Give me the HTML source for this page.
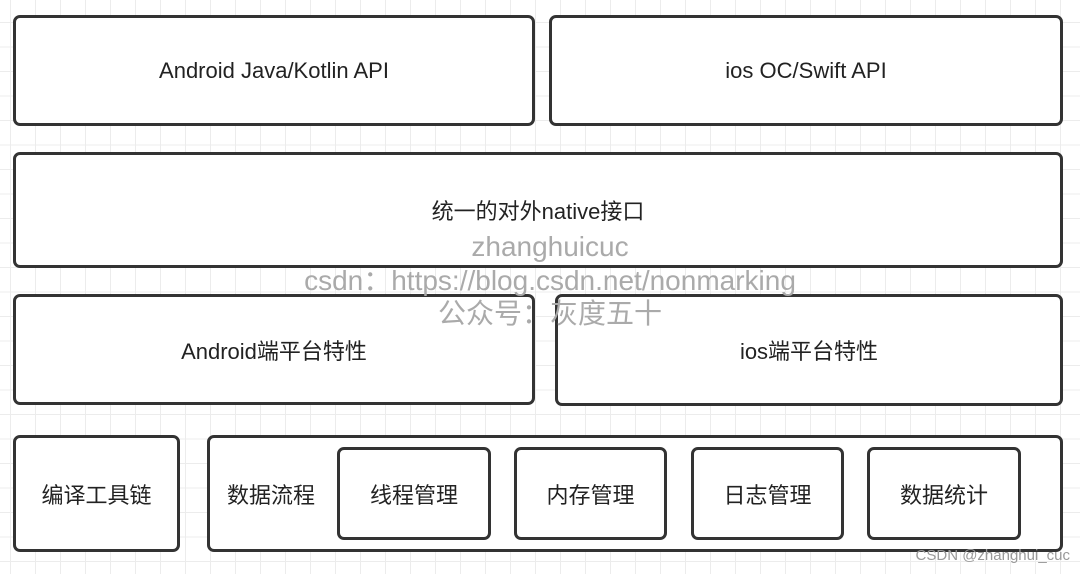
<!DOCTYPE html>
<html><head><meta charset="utf-8"><style>
body{margin:0;width:1080px;height:574px;overflow:hidden;position:relative;font-family:"Liberation Sans","Noto Sans CJK SC",sans-serif;
background-color:#fff;
background-image:linear-gradient(#ececec 1px,transparent 1px),linear-gradient(90deg,#ececec 1px,transparent 1px);
background-size:25px 24.5px;background-position:10px 22px;}
.b{position:absolute;box-sizing:border-box;border:3px solid #333;border-radius:7px;background:#fff;display:flex;align-items:center;justify-content:center;font-size:22px;color:#222;}
.w{position:absolute;left:0;width:1100px;text-align:center;color:#aaa;font-size:28px;line-height:32px;}
</style></head><body>
<div class="b" style="left:13px;top:15px;width:522px;height:111px">Android Java/Kotlin API</div>
<div class="b" style="left:549px;top:15px;width:514px;height:111px">ios OC/Swift API</div>
<div class="b" style="left:13px;top:152px;width:1050px;height:116px">统一的对外native接口</div>
<div class="b" style="left:13px;top:294px;width:522px;height:111px">Android端平台特性</div>
<div class="b" style="left:555px;top:294px;width:508px;height:112px">ios端平台特性</div>
<div class="b" style="left:13px;top:435px;width:167px;height:117px">编译工具链</div>
<div class="b" style="left:207px;top:435px;width:856px;height:117px;justify-content:flex-start;padding-left:17px">数据流程</div>
<div class="b" style="left:337px;top:447px;width:154px;height:93px">线程管理</div>
<div class="b" style="left:514px;top:447px;width:153px;height:93px">内存管理</div>
<div class="b" style="left:691px;top:447px;width:153px;height:93px">日志管理</div>
<div class="b" style="left:867px;top:447px;width:154px;height:93px">数据统计</div>
<div class="w" style="top:231px">zhanghuicuc</div>
<div class="w" style="top:265px">csdn：https://blog.csdn.net/nonmarking</div>
<div class="w" style="top:298px">公众号：灰度五十</div>
<div style="position:absolute;right:10px;top:547px;color:#999;font-size:15px">CSDN @zhanghui_cuc</div>
</body></html>
